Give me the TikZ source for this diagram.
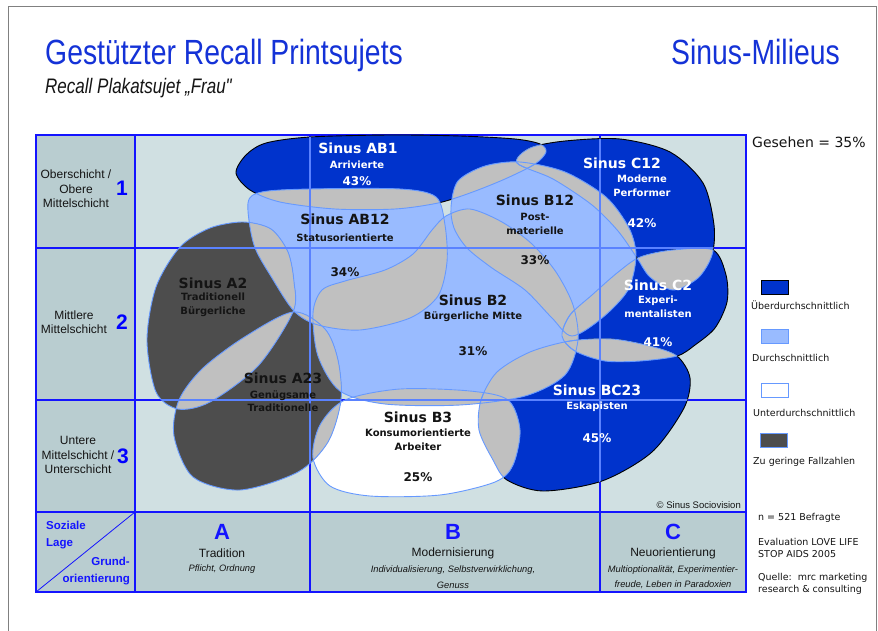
\documentclass[tikz,border=0pt]{standalone}
\usepackage{fontspec}
\setmainfont{Liberation Sans}
\newfontfamily\narrowfont[FakeStretch=0.81]{Liberation Sans}
\newfontfamily\verdfont{DejaVu Sans}

\definecolor{milDark}{RGB}{0,51,204}
\definecolor{milMid}{RGB}{153,187,255}
\definecolor{milFew}{RGB}{77,77,77}
\definecolor{milOverlap}{RGB}{192,192,192}
\definecolor{milEdge}{RGB}{102,153,255}
\definecolor{chartBg}{RGB}{208,224,226}
\definecolor{axisBg}{RGB}{185,205,208}
\definecolor{frameBlue}{RGB}{20,20,255}
\definecolor{gridLight}{RGB}{90,130,255}
\definecolor{titleBlue}{RGB}{20,50,215}
\definecolor{inkText}{RGB}{20,20,20}

% outlines of the milieus (x to the right, y downwards)
\newcommand{\pathArrivierte}{plot[smooth cycle] coordinates {(236,173) (246,155) (266,143) (310,137) (390,135) (460,136) (515,139) (540,144) (546,152) (535,164) (505,179) (470,193) (438,203) (395,209) (335,209) (280,202) (250,190)}}
\newcommand{\pathPerformer}{plot[smooth cycle] coordinates {(517,163) (530,148) (565,141) (620,139) (670,152) (703,183) (714,225) (712,255) (698,278) (673,290) (650,277) (637,258) (618,231) (592,205) (553,179)}}
\newcommand{\pathExperi}{plot[smooth cycle] coordinates {(640,257) (673,250) (713,250) (726,275) (727,302) (715,328) (695,345) (677,356) (640,361) (605,361) (575,351) (562,336) (570,315) (592,295) (617,273)}}
\newcommand{\pathEskap}{plot[smooth cycle] coordinates {(677,356) (690,378) (684,408) (652,452) (602,481) (543,491) (507,480) (493,460) (479,430) (481,400) (497,372) (530,352) (570,341) (612,339) (650,346)}}
\newcommand{\pathStatus}{plot[smooth cycle] coordinates {(248,203) (262,192) (310,189) (400,189) (436,197) (445,225) (447,262) (438,296) (410,318) (360,330) (318,325) (294,311) (272,278) (254,245)}}
\newcommand{\pathPost}{plot[smooth cycle] coordinates {(451,207) (458,181) (485,166) (520,162) (565,172) (606,197) (629,228) (636,256) (628,290) (602,318) (572,336) (552,318) (525,290) (492,268) (467,248) (454,228)}}
\newcommand{\pathMitte}{plot[smooth cycle] coordinates {(313,313) (322,290) (345,281) (385,270) (413,254) (432,230) (446,216) (470,209) (502,222) (532,244) (556,272) (573,305) (578,340) (565,375) (525,396) (460,405) (385,404) (340,391) (318,356)}}
\newcommand{\pathKonsum}{plot[smooth cycle] coordinates {(400,389) (470,391) (508,400) (520,430) (513,465) (495,482) (440,495) (370,496) (330,486) (313,458) (320,425) (345,400)}}
\newcommand{\pathTrad}{plot[smooth cycle] coordinates {(243,222) (271,229) (288,252) (294,282) (293,312) (258,366) (210,402) (178,409) (156,392) (147,340) (156,287) (180,247) (210,228)}}
\newcommand{\pathGenueg}{plot[smooth cycle] coordinates {(293,312) (325,329) (338,360) (341,400) (328,442) (298,472) (240,490) (193,477) (174,436) (179,400) (202,369) (243,338)}}
\newcommand{\milieu}[1]{\csname path#1\endcsname}

\begin{document}
\begin{tikzpicture}[x=1pt, y=-1pt,
    darkmil/.style={fill=milDark, draw=black, line width=0.9pt},
    midmil/.style={fill=milMid},
    lowmil/.style={fill=white},
    fewmil/.style={fill=milFew},
    overlap/.style={fill=milOverlap},
    miledge/.style={draw=milEdge, line width=0.9pt},
    gridline/.style={draw=frameBlue, line width=1.1pt},
    gridover/.style={draw=gridLight, line width=1.1pt},
    milname/.style={font=\verdfont\bfseries\fontsize{14}{16}\selectfont, inner sep=0, text=inkText},
    milsub/.style={font=\verdfont\bfseries\fontsize{10}{13.5}\selectfont, align=center, inner sep=0, text=inkText},
    milpct/.style={font=\verdfont\bfseries\fontsize{12}{14}\selectfont, inner sep=0, text=inkText},
    rowlabel/.style={font=\fontsize{12}{14.5}\selectfont, align=center, inner sep=0, text=inkText},
    rownum/.style={font=\bfseries\fontsize{21}{21}\selectfont, text=blue, inner sep=0},
    colletter/.style={font=\bfseries\fontsize{22}{22}\selectfont, text=frameBlue, inner sep=0},
    colname/.style={font=\fontsize{12}{14}\selectfont, inner sep=0, text=inkText},
    colnote/.style={font=\itshape\fontsize{9.3}{15.5}\selectfont, align=center, inner sep=0, text=inkText},
    legbox/.style={minimum width=27pt, minimum height=14pt, inner sep=0, line width=1pt},
    legtext/.style={font=\verdfont\fontsize{9.5}{12.3}\selectfont, anchor=west, align=left, inner sep=0, text=inkText}]
    \useasboundingbox (0,0) rectangle (878,631);
    \fill[white] (0,0) rectangle (878,631);

    % page frame
    \draw[gray, line width=0.8pt] (8,640) -- (8,6) -- (876,6) -- (876,640);

    % title lines
    \node[anchor=base west, inner sep=0, text=titleBlue, font=\narrowfont\fontsize{35}{35}\selectfont] (title) at (45,65) {Gestützter Recall Printsujets};
    \node[anchor=base east, inner sep=0, text=titleBlue, font=\narrowfont\fontsize{35}{35}\selectfont] (brand) at (840,65) {Sinus-Milieus};
    \node[anchor=base west, inner sep=0, text=inkText, font=\narrowfont\itshape\fontsize{21}{21}\selectfont] (subtitle) at (45,94) {Recall Plakatsujet „Frau"};

    % table background
    \fill[chartBg] (135,135) rectangle (746,512);
    \fill[axisBg] (36,135) rectangle (135,592);
    \fill[axisBg] (135,512) rectangle (746,592);
    \draw[gridline] (36,135) rectangle (746,592);
    \draw[gridline] (135,135) -- (135,592) (310,135) -- (310,592) (600,135) -- (600,592);
    \draw[gridline] (36,248) -- (746,248) (36,400) -- (746,400) (36,512) -- (746,512);
    \draw[gridline, line width=0.8pt] (36,592) -- (135,512);

    % milieus
    \foreach \m in {Arrivierte,Performer,Experi,Eskap} \filldraw[darkmil] \milieu{\m};
    \foreach \m in {Status,Post,Mitte} \fill[midmil] \milieu{\m};
    \fill[lowmil] \milieu{Konsum};
    \foreach \m in {Trad,Genueg} \fill[fewmil] \milieu{\m};

    % overlapping parts in grey
    \foreach \p [count=\i] in {Arrivierte,Performer,Experi,Eskap,Status,Post,Mitte,Konsum,Trad,Genueg}
      \foreach \q [count=\j] in {Arrivierte,Performer,Experi,Eskap,Status,Post,Mitte,Konsum,Trad,Genueg} {
        \ifnum\j>\i
          \begin{scope}
            \clip \milieu{\p};
            \fill[overlap] \milieu{\q};
          \end{scope}
        \fi
      }

    % light edges
    \foreach \m in {Status,Post,Mitte,Konsum,Trad,Genueg} \draw[miledge] \milieu{\m};
    \foreach \q in {Arrivierte,Performer,Experi,Eskap}
      \foreach \p in {Arrivierte,Performer,Experi,Eskap,Status,Post,Mitte,Konsum,Trad,Genueg} {
        \ifx\p\q\else
          \begin{scope}
            \clip \milieu{\p};
            \draw[miledge] \milieu{\q};
          \end{scope}
        \fi
      }

    % grid shows lighter over the milieus
    \foreach \m in {Arrivierte,Performer,Experi,Eskap,Status,Post,Mitte,Konsum,Trad,Genueg} {
      \begin{scope}
        \clip \milieu{\m};
        \draw[gridover] (310,135) -- (310,512) (600,135) -- (600,512) (135,248) -- (746,248) (135,400) -- (746,400);
      \end{scope}
    }

    % milieu labels
    \node[milname, text=white] (nameAB1) at (358,148) {Sinus AB1};
    \node[milsub, text=white] (subAB1) at (357,165) {Arrivierte};
    \node[milpct, text=white] (pctAB1) at (357,181) {43\%};

    \node[milname, text=white] (nameC12) at (622,163) {Sinus C12};
    \node[milsub, text=white] (subC12) at (642,186) {Moderne\\Performer};
    \node[milpct, text=white] (pctC12) at (642,223) {42\%};

    \node[milname] (nameAB12) at (345,219) {Sinus AB12};
    \node[milsub] (subAB12) at (345,238) {Statusorientierte};
    \node[milpct] (pctAB12) at (345,272) {34\%};

    \node[milname] (nameB12) at (535,200) {Sinus B12};
    \node[milsub] (subB12) at (535,224) {Post-\\materielle};
    \node[milpct] (pctB12) at (535,260) {33\%};

    \node[milname] (nameA2) at (213,283) {Sinus A2};
    \node[milsub] (subA2) at (213,305) {Traditionell\\Bürgerliche};

    \node[milname] (nameB2) at (473,300) {Sinus B2};
    \node[milsub] (subB2) at (473,317) {Bürgerliche Mitte};
    \node[milpct] (pctB2) at (473,351) {31\%};

    \node[milname, text=white] (nameC2) at (658,285) {Sinus C2};
    \node[milsub, text=white] (subC2) at (658,307) {Experi-\\mentalisten};
    \node[milpct, text=white] (pctC2) at (658,342) {41\%};

    \node[milname] (nameA23) at (283,378) {Sinus A23};
    \node[milsub] (subA23) at (283,401) {Genügsame\\Traditionelle};

    \node[milname, text=white] (nameBC23) at (597,390) {Sinus BC23};
    \node[milsub, text=white] (subBC23) at (597,407) {Eskapisten};
    \node[milpct, text=white] (pctBC23) at (597,438) {45\%};

    \node[milname] (nameB3) at (418,417) {Sinus B3};
    \node[milsub] (subB3) at (418,440) {Konsumorientierte\\Arbeiter};
    \node[milpct] (pctB3) at (418,477) {25\%};

    \node[anchor=east, inner sep=0, font=\fontsize{9.5}{11}\selectfont, text=inkText] (copy) at (741,505) {© Sinus Sociovision};

    % social position
    \node[rowlabel] (row1) at (76,189) {Oberschicht /\\Obere\\Mittelschicht};
    \node[rownum] (num1) at (122,188) {1};
    \node[rowlabel] (row2) at (74,322) {Mittlere\\Mittelschicht};
    \node[rownum] (num2) at (122,322) {2};
    \node[rowlabel] (row3) at (78,455) {Untere\\Mittelschicht /\\Unterschicht};
    \node[rownum] (num3) at (123,456) {3};

    % basic orientation
    \node[anchor=west, align=left, inner sep=0, text=frameBlue, font=\bfseries\fontsize{11.5}{16.5}\selectfont] (corner1) at (46,535) {Soziale\\Lage};
    \node[anchor=east, align=right, inner sep=0, text=frameBlue, font=\bfseries\fontsize{11.5}{16.5}\selectfont] (corner2) at (130,571) {Grund-\\orientierung};

    \node[colletter] (colA) at (222,532) {A};
    \node[colname] (nameA) at (222,553) {Tradition};
    \node[colnote] (noteA) at (222,569) {Pflicht, Ordnung};
    \node[colletter] (colB) at (453,532) {B};
    \node[colname] (nameB) at (453,553) {Modernisierung};
    \node[colnote] (noteB) at (453,577) {Individualisierung, Selbstverwirklichung,\\Genuss};
    \node[colletter] (colC) at (673,532) {C};
    \node[colname] (nameC) at (673,553) {Neuorientierung};
    \node[colnote] (noteC) at (673,577) {Multioptionalität, Experimentier-\\freude, Leben in Paradoxien};

    % legend
    \node[legtext, font=\verdfont\fontsize{14}{16}\selectfont] (seen) at (752,142) {Gesehen = 35\%};
    \node[legbox, fill=milDark, draw=black] (boxHigh) at (774.5,287) {};
    \node[legtext] (txtHigh) at (751,305.5) {Überdurchschnittlich};
    \node[legbox, fill=milMid, draw=milEdge] (boxMid) at (774.5,336) {};
    \node[legtext] (txtMid) at (752,358) {Durchschnittlich};
    \node[legbox, fill=white, draw=milEdge] (boxLow) at (774.5,390) {};
    \node[legtext] (txtLow) at (753,412.5) {Unterdurchschnittlich};
    \node[legbox, fill=milFew, draw=milEdge] (boxFew) at (773.5,440) {};
    \node[legtext] (txtFew) at (753,462) {Zu geringe Fallzahlen};

    \node[legtext] (sample) at (758,518) {n = 521 Befragte};
    \node[legtext] (study) at (758,548) {Evaluation LOVE LIFE\\STOP AIDS 2005};
    \node[legtext] (source) at (758,584) {Quelle:\ \ mrc marketing\\research \& consulting};
\end{tikzpicture}
\end{document}
